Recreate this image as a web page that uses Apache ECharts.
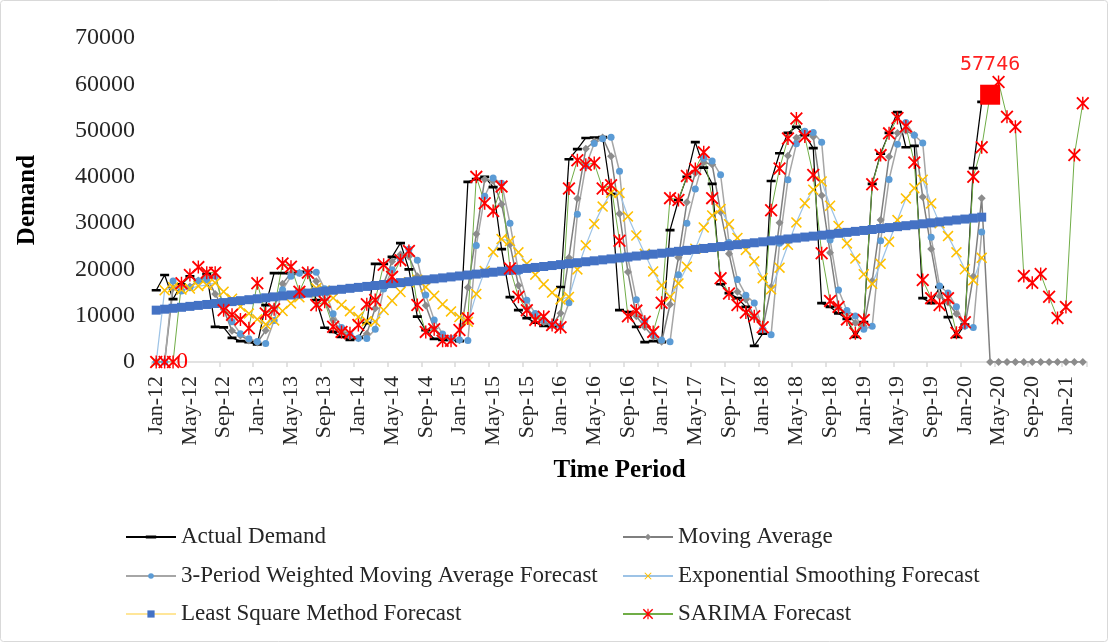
<!DOCTYPE html>
<html>
<head>
<meta charset="utf-8">
<title>Demand forecast</title>
<script src="https://cdn.jsdelivr.net/npm/echarts@6.0.0/dist/echarts.min.js"></script>
<style>
  html, body { margin: 0; padding: 0; background: #fff; }
  #chart { width: 1109px; height: 643px; }
</style>
</head>
<body>
<div id="chart"></div>
<script>
// month labels, Jan-12 .. Mar-21
var months = [
  'Jan-12','Feb-12','Mar-12','Apr-12','May-12','Jun-12','Jul-12','Aug-12','Sep-12','Oct-12','Nov-12','Dec-12',
  'Jan-13','Feb-13','Mar-13','Apr-13','May-13','Jun-13','Jul-13','Aug-13','Sep-13','Oct-13','Nov-13','Dec-13',
  'Jan-14','Feb-14','Mar-14','Apr-14','May-14','Jun-14','Jul-14','Aug-14','Sep-14','Oct-14','Nov-14','Dec-14',
  'Jan-15','Feb-15','Mar-15','Apr-15','May-15','Jun-15','Jul-15','Aug-15','Sep-15','Oct-15','Nov-15','Dec-15',
  'Jan-16','Feb-16','Mar-16','Apr-16','May-16','Jun-16','Jul-16','Aug-16','Sep-16','Oct-16','Nov-16','Dec-16',
  'Jan-17','Feb-17','Mar-17','Apr-17','May-17','Jun-17','Jul-17','Aug-17','Sep-17','Oct-17','Nov-17','Dec-17',
  'Jan-18','Feb-18','Mar-18','Apr-18','May-18','Jun-18','Jul-18','Aug-18','Sep-18','Oct-18','Nov-18','Dec-18',
  'Jan-19','Feb-19','Mar-19','Apr-19','May-19','Jun-19','Jul-19','Aug-19','Sep-19','Oct-19','Nov-19','Dec-19',
  'Jan-20','Feb-20','Mar-20','Apr-20','May-20','Jun-20','Jul-20','Aug-20','Sep-20','Oct-20','Nov-20','Dec-20',
  'Jan-21','Feb-21','Mar-21'
];

var actualDemand = [
  15500, 18800, 13600, 16800, 18500, 17500, 19000, 7600, 7500, 5200, 4500, 4300,
  3800, 12300, 19200, 19200, 19200, 19500, 19400, 13400, 7400, 6500, 5400, 4800,
  5200, 8400, 21200, 21200, 22700, 25700, 20000, 9800, 6900, 5000, 4800, 4800,
  4500, 38900, 39500, 40000, 37800, 24400, 14000, 11200, 9500, 8500, 7800, 7600,
  16200, 43800, 46000, 48400, 48500, 48600, 36300, 11200, 10800, 7600, 4300, 4500,
  4300, 28500, 35000, 40000, 47500, 42000, 38500, 16800, 14900, 13800, 11900, 3500,
  6100, 39100, 45100, 49500, 50800, 49000, 46200, 12700, 11900, 10500, 9300, 5400,
  8600, 38500, 45000, 49500, 54000, 46400, 46700, 13800, 12700, 16200, 9700, 5400,
  8100, 41900, 56200
];

var movingAverage = [
  0, 0, 15970, 16400, 16300, 17600, 18330, 14700, 11370, 6770, 5730, 4670,
  4200, 6800, 11770, 16900, 19200, 19300, 19370, 17430, 13400, 9100, 6430, 5570,
  5130, 6130, 11600, 16930, 21700, 23200, 22800, 18500, 12230, 7230, 5570, 4870,
  4700, 16070, 27630, 39470, 39100, 34070, 25400, 16530, 11570, 9730, 8600, 7970,
  10530, 22530, 35330, 46070, 47630, 48500, 44470, 32030, 19430, 9870, 7570, 5470,
  4370, 12430, 22600, 34500, 40830, 43170, 42670, 32430, 23400, 15170, 13530, 9730,
  7170, 16230, 30100, 44570, 48470, 49770, 48670, 35970, 23600, 11700, 10570, 8400,
  7770, 17500, 30700, 44330, 49500, 49970, 49030, 35630, 24400, 14230, 12870, 10430,
  7730, 18470, 35400, 0, 0, 0, 0, 0, 0, 0, 0, 0,
  0, 0, 0
];

var weightedMA = [
  0, 0, 17500, 15350, 16040, 17500, 17730, 18500, 12010, 8680, 6130, 5010,
  4450, 4020, 8950, 15590, 18510, 19200, 19380, 19410, 15810, 10400, 7460, 5930,
  5150, 5100, 7080, 15760, 19920, 22100, 24350, 21980, 14450, 9080, 6050, 5070,
  4820, 4620, 25170, 35820, 39740, 38630, 29980, 19500, 13360, 10460, 9070, 8180,
  7750, 12780, 31900, 42360, 47220, 48220, 48550, 41210, 22470, 13470, 8920, 5940,
  4750, 4360, 18840, 29980, 37350, 44000, 43450, 40450, 25830, 17830, 14430, 12770,
  7050, 5900, 25640, 39400, 47140, 49840, 49590, 47500, 26380, 15570, 11140, 9920,
  7080, 7710, 26220, 39410, 47050, 51750, 48990, 47340, 26930, 16430, 14910, 11950,
  7770, 7450, 28110
];

var expSmoothing = [
  0, 15500, 16160, 15650, 15880, 16400, 16620, 17100, 15200, 13660, 11970, 10470,
  9240, 8150, 8980, 11020, 12660, 13970, 15070, 15940, 15430, 13830, 12360, 10970,
  9730, 8830, 8740, 11230, 13230, 15120, 17240, 17790, 16190, 14330, 12470, 10930,
  9710, 8670, 14710, 19670, 23740, 26550, 26120, 23700, 21200, 18860, 16790, 14990,
  13510, 14050, 20000, 25200, 29840, 33570, 36580, 36520, 31460, 27330, 23380, 19570,
  16550, 14100, 16980, 20590, 24470, 29080, 31660, 33030, 29780, 26810, 24210, 21740,
  18100, 15700, 20380, 25320, 30160, 34290, 37230, 39020, 33760, 29390, 25610, 22350,
  18960, 16890, 21210, 25970, 30670, 35340, 37550, 39380, 34270, 29950, 27200, 23700,
  20040, 17650, 22500
];

var leastSquare = [
  11200, 11410, 11610, 11820, 12020, 12230, 12430, 12640, 12840, 13050, 13250, 13460,
  13660, 13870, 14070, 14280, 14480, 14690, 14890, 15100, 15300, 15510, 15710, 15920,
  16120, 16330, 16530, 16740, 16940, 17150, 17350, 17560, 17760, 17970, 18170, 18380,
  18580, 18790, 18990, 19200, 19400, 19610, 19810, 20020, 20220, 20430, 20630, 20840,
  21040, 21250, 21450, 21660, 21860, 22070, 22270, 22480, 22680, 22890, 23090, 23300,
  23500, 23710, 23910, 24120, 24320, 24530, 24730, 24940, 25140, 25350, 25550, 25760,
  25960, 26170, 26370, 26580, 26780, 26990, 27190, 27400, 27600, 27810, 28010, 28220,
  28420, 28630, 28830, 29040, 29240, 29450, 29650, 29860, 30060, 30270, 30470, 30680,
  30880, 31090, 31290
];

var sarima = [
  0, 0, 0, 17000, 18800, 20500, 19300, 19300, 11200, 10200, 9200, 7300,
  17000, 10500, 11400, 21300, 20600, 15200, 19300, 12300, 13000, 7600, 6500, 6200,
  8000, 12500, 13400, 21000, 18400, 22000, 24000, 12300, 6500, 7100, 4600, 4600,
  6900, 9400, 40000, 34300, 32600, 37900, 20200, 14100, 11200, 9100, 9800, 8000,
  7500, 37500, 43600, 42600, 43000, 37500, 38200, 26200, 9900, 11100, 8700, 6500,
  12800, 35400, 35000, 40200, 41700, 45300, 35400, 18100, 14800, 12300, 10700, 9900,
  7500, 32800, 41800, 48300, 52600, 48700, 40400, 23500, 13200, 11900, 9200, 6200,
  9100, 38400, 44700, 49400, 52700, 50900, 43100, 17700, 13800, 12300, 13800, 6300,
  8600, 40000, 46400, 57746, 60500, 53000, 50800, 18600, 17100, 19000, 14100, 9500,
  11900, 44700, 55900
];

var yTicks = [0, 10000, 20000, 30000, 40000, 50000, 60000, 70000];

var serif = '"Liberation Serif", "Times New Roman", serif';
// marker shapes: flat dash (square box so legend keeps it flat), x cross, asterisk
var dashMark = 'path://M0,0L0.01,0M0,3.5L10,3.5L10,6.5L0,6.5ZM9.99,10L10,10';
var xMark = 'path://M0,1L1,0L5,4L9,0L10,1L6,5L10,9L9,10L5,6L1,10L0,9L4,5Z';
var starMark = 'path://M0,1L1,0L5,4L9,0L10,1L6,5L10,9L9,10L5,6L1,10L0,9L4,5Z M4.45,0L5.55,0L5.55,10L4.45,10Z';

// SARIMA points: the 0 label at Mar-12 and the highlighted Apr-20 point
var sarimaData = sarima.map(function (v, i) {
  if (i === 2) {
    return { value: v, label: { show: true, position: 'right', distance: -3, formatter: '0',
      color: '#ff0000', fontFamily: serif, fontSize: 23 } };
  }
  if (i === 99) {
    return { value: v, symbol: 'rect', symbolSize: 20, itemStyle: { color: '#ff0000' },
      label: { show: true, position: 'top', distance: 10, formatter: '{c}',
        color: '#ff2020', fontFamily: '"DejaVu Sans Mono", monospace', fontSize: 20 } };
  }
  return v;
});

// one legend per entry so they sit in two columns like the original
function legendAt(name, left, top, iconH) {
  return {
    data: [name], left: left, top: top, padding: 0,
    itemWidth: 50, itemHeight: iconH,
    textStyle: { fontFamily: serif, fontSize: 23, color: '#262626', lineHeight: 24 }
  };
}

var chart = echarts.init(document.getElementById('chart'));
var option = {
  animation: false,
  backgroundColor: '#fff',
  graphic: [{
    type: 'rect', shape: { x: 0.5, y: 0.5, width: 1107, height: 641, r: 3 },
    style: { fill: 'none', stroke: '#d9d9d9', lineWidth: 1 }, silent: true
  }],
  legend: [
    legendAt('Actual Demand', 125, 525, 13),
    legendAt('Moving Average', 622, 525, 8),
    legendAt('3-Period Weighted Moving Average Forecast', 125, 564, 7),
    legendAt('Exponential Smoothing Forecast', 622, 564, 9),
    legendAt('Least Square Method Forecast', 125, 602, 9),
    legendAt('SARIMA Forecast', 622, 602, 13)
  ],
  grid: { left: 152, right: 22, top: 38, bottom: 281, containLabel: false },
  xAxis: {
    type: 'category',
    data: months,
    boundaryGap: true,
    name: 'Time Period',
    nameLocation: 'middle',
    nameGap: 96,
    nameTextStyle: { fontFamily: serif, fontSize: 25, fontWeight: 'bold', color: '#000' },
    axisLine: { lineStyle: { color: '#d9d9d9', width: 1.5 } },
    axisTick: { show: true, interval: 3, length: 5, lineStyle: { color: '#d9d9d9', width: 1.5 } },
    axisLabel: { interval: 3, rotate: 90, margin: 14, fontFamily: serif, fontSize: 22, color: '#262626' },
    splitLine: { show: false }
  },
  yAxis: {
    type: 'value',
    min: yTicks[0],
    max: yTicks[yTicks.length - 1],
    interval: 10000,
    name: 'Demand',
    nameLocation: 'middle',
    nameGap: 112,
    nameTextStyle: { fontFamily: serif, fontSize: 25, fontWeight: 'bold', color: '#000' },
    axisLine: { show: false },
    axisTick: { show: false },
    axisLabel: {
      margin: 17, fontFamily: serif, fontSize: 24, color: '#262626',
      formatter: function (v) { return String(v); }
    },
    splitLine: { show: false }
  },
  series: [
    {
      name: 'Actual Demand', type: 'line', data: actualDemand,
      showAllSymbol: true, symbol: dashMark, symbolSize: 9,
      lineStyle: { color: '#000', width: 1.25 },
      itemStyle: { color: '#000' }
    },
    {
      name: 'Moving Average', type: 'line', data: movingAverage,
      showAllSymbol: true, symbol: 'diamond', symbolSize: 8,
      lineStyle: { color: '#7f7f7f', width: 1.5 },
      itemStyle: { color: '#8c8c8c' }
    },
    {
      name: '3-Period Weighted Moving Average Forecast', type: 'line', data: weightedMA,
      showAllSymbol: true, symbol: 'circle', symbolSize: 7,
      lineStyle: { color: '#a6a6a6', width: 1.5 },
      itemStyle: { color: '#5b9bd5' }
    },
    {
      name: 'Exponential Smoothing Forecast', type: 'line', data: expSmoothing,
      showAllSymbol: true, symbol: xMark, symbolSize: 11,
      lineStyle: { color: '#9dc3e6', width: 1.25 },
      itemStyle: { color: '#ffc000' }
    },
    {
      name: 'Least Square Method Forecast', type: 'line', data: leastSquare,
      showAllSymbol: true, symbol: 'rect', symbolSize: 9,
      lineStyle: { color: '#ffe699', width: 1.5 },
      itemStyle: { color: '#4472c4' }
    },
    {
      name: 'SARIMA Forecast', type: 'line', data: sarimaData,
      showAllSymbol: true, symbol: starMark, symbolSize: 13,
      lineStyle: { color: '#70ad47', width: 1 },
      itemStyle: { color: '#ff0000' }
    }
  ]
};

option && chart.setOption(option);
</script>
</body>
</html>
